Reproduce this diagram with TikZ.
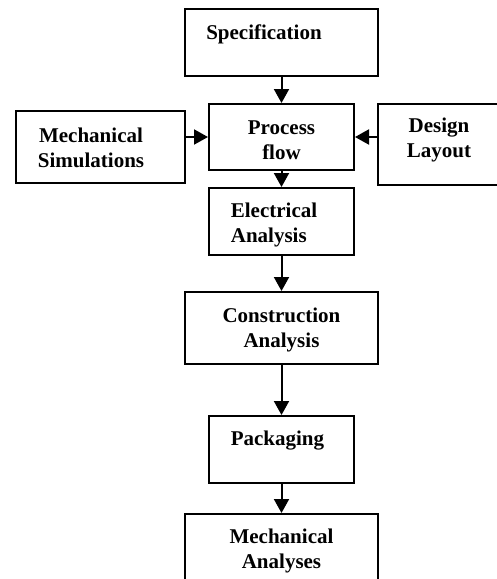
\documentclass[tikz,border=0pt]{standalone}
\usepackage{fontspec}
\setmainfont{Liberation Serif}
\usetikzlibrary{arrows.meta}
\tikzset{
  box/.style={draw=black, line width=2pt, rectangle, inner sep=0pt},
  lbl/.style={inner sep=0pt, align=center, font=\bfseries\fontsize{21}{25}\selectfont},
  arr/.style={line width=2pt, -{Triangle[length=14pt,width=15pt]}},
}
\begin{document}
\begin{tikzpicture}[x=1pt,y=1pt]
\useasboundingbox (0,0) rectangle (497,-579);
\clip (0,0) rectangle (497,-579);
% boxes
\node[box, minimum width=193pt, minimum height=67pt] (spec) at (281.5,-42.5) {};
\node[box, minimum width=145pt, minimum height=66pt] (proc) at (281.5,-137) {};
\node[box, minimum width=169pt, minimum height=72pt] (msim) at (100.5,-147) {};
\node[box, minimum width=140pt, minimum height=81pt] (dlay) at (448,-144.5) {};
\node[box, minimum width=145pt, minimum height=67pt] (elec) at (281.5,-221.5) {};
\node[box, minimum width=193pt, minimum height=72pt] (cons) at (281.5,-328) {};
\node[box, minimum width=145pt, minimum height=67pt] (pack) at (281.5,-449.5) {};
\node[box, minimum width=193pt, minimum height=90pt] (mana) at (281.5,-559) {};
% labels
\node[lbl] (spec-t) at (264,-34) {Specification};
\node[lbl] (proc-t) at (281.5,-140) {Process\\flow};
\node[lbl] (msim-t) at (91,-147.5) {Mechanical\\Simulations};
\node[lbl] (dlay-t) at (439,-140) {Design\\Layout};
\node[lbl, align=left] (elec-t) at (274,-224.5) {Electrical\\Analysis};
\node[lbl] (cons-t) at (281.5,-329.5) {Construction\\Analysis};
\node[lbl] (pack-t) at (277.5,-441) {Packaging};
\node[lbl] (mana-t) at (281.5,-550.5) {Mechanical\\Analyses};
% connectors
\draw[arr] (spec.south) -- (proc.north);
\draw[arr] (msim.east |- proc.west) -- (proc.west);
\draw[arr] (dlay.west |- proc.east) -- (proc.east);
\draw[arr] (proc.south) -- (elec.north);
\draw[arr] (elec.south) -- (cons.north);
\draw[arr] (cons.south) -- (pack.north);
\draw[arr] (pack.south) -- (mana.north);
\end{tikzpicture}
\end{document}
